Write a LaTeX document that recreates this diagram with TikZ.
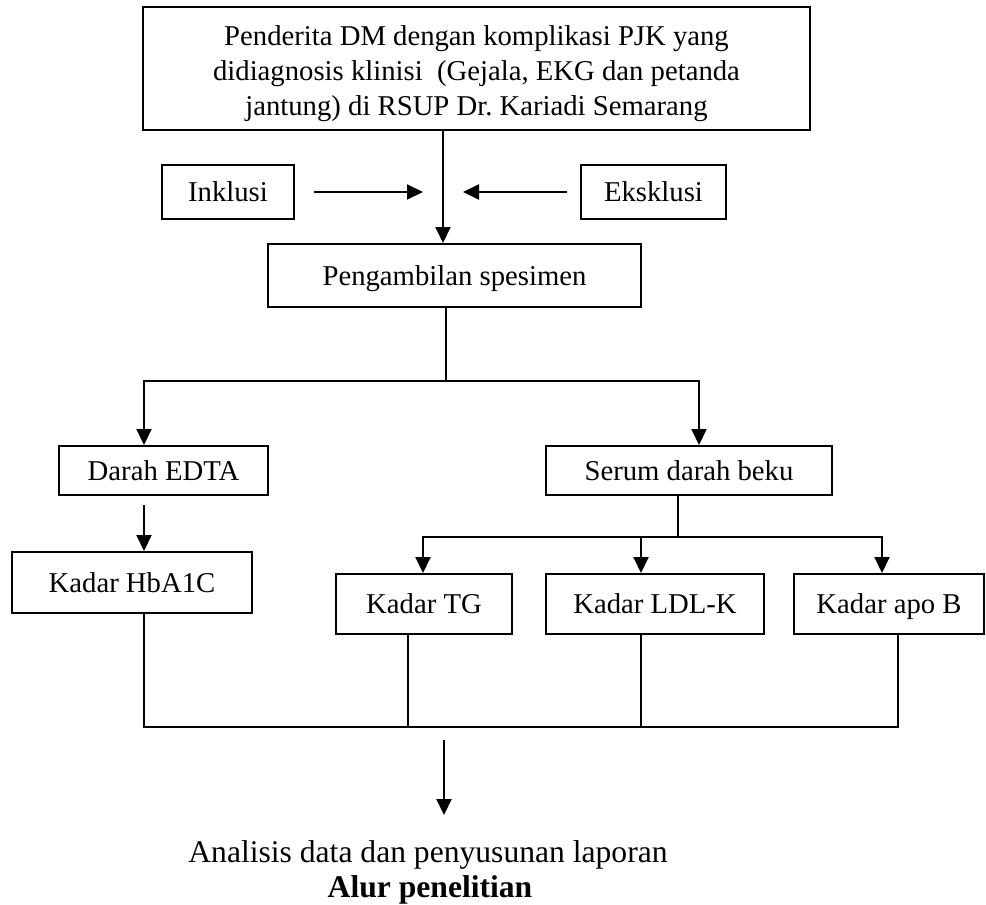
\documentclass[tikz,border=0pt]{standalone}
\usepackage{fontspec}
\setmainfont{Liberation Serif}
\usetikzlibrary{arrows.meta,calc}
\newcommand{\myfs}{\fontsize{28.7}{35}\selectfont}
\newcommand{\mybigfs}{\fontsize{31.6}{36}\selectfont}
\begin{document}
\begin{tikzpicture}[x=1pt,y=-1pt,
  box/.style={draw,line width=2pt,inner sep=0pt,text height=19pt,text depth=0pt,font=\myfs},
  arr/.style={line width=2pt,-{Triangle[length=16pt,width=15pt]}},
  ln/.style={line width=2pt},
  thinln/.style={line width=1.5pt},
  plaintext/.style={anchor=base,inner sep=0pt}]
\useasboundingbox (0,0) rectangle (986,905);
% boxes
\node[box,minimum width=667pt,minimum height=123pt,align=center,text height=93pt] (top) at (476.5,68.5)
  {Penderita DM dengan komplikasi PJK yang\\didiagnosis klinisi\ \ (Gejala, EKG dan petanda\\jantung) di RSUP Dr.\ Kariadi Semarang};
\node[box,minimum width=132pt,minimum height=54pt] (inkl) at (228,192) {Inklusi};
\node[box,minimum width=145pt,minimum height=54pt] (eksk) at (653.5,192) {Eksklusi};
\node[box,minimum width=373pt,minimum height=63pt] (peng) at (454.5,275.5) {Pengambilan spesimen};
\node[box,minimum width=209pt,minimum height=49pt] (darah) at (163.5,470.5) {Darah EDTA};
\node[box,minimum width=240pt,minimum height=61pt] (hba) at (132,582.5) {Kadar HbA1C};
\node[box,minimum width=286pt,minimum height=49pt] (serum) at (689,470.5) {Serum darah beku};
\node[box,minimum width=176pt,minimum height=60pt] (tg) at (424,604) {Kadar TG};
\node[box,minimum width=218pt,minimum height=60pt] (ldl) at (655,604) {Kadar LDL-K};
\node[box,minimum width=190pt,minimum height=60pt] (apob) at (889,604) {Kadar apo B};
\node[plaintext,font=\mybigfs] (ana) at (428,862) {Analisis data dan penyusunan laporan};
\node[plaintext,font=\mybigfs\bfseries] (alur) at (430,897) {Alur penelitian};
% helper coordinates
\coordinate (mx) at (443,0);
\coordinate (b1) at (446,381);
\coordinate (xL) at (144,0);
\coordinate (xR) at (699,0);
\coordinate (b2) at (678,537);
\coordinate (c1) at (423,0);
\coordinate (c2) at (641,0);
\coordinate (c3) at (882,0);
\coordinate (j) at (144,727);
\coordinate (d1) at (408,0);
\coordinate (d3) at (898,0);
\coordinate (out) at (444,740);
\coordinate (outend) at (444,815);
% connectors
\draw[arr] (top.south -| mx) -- (peng.north -| mx);
\draw[arr] ($(inkl.east)+(19,0)$) -- ($(inkl.east -| mx)+(-20,0)$);
\draw[arr] ($(eksk.west)+(-13,0)$) -- ($(eksk.west -| mx)+(20,0)$);
\draw[thinln] (peng.south -| b1) -- (b1);
\draw[arr] (b1) -| (darah.north -| xL);
\draw[arr] (b1) -| (serum.north -| xR);
\draw[arr] ($(darah.south -| xL)+(0,9)$) -- (hba.north -| xL);
\draw[thinln] (serum.south -| b2) -- (b2);
\draw[arr] (b2) -| (tg.north -| c1);
\draw[arr] (b2 -| c2) -- (ldl.north -| c2);
\draw[arr] (b2) -| (apob.north -| c3);
\draw[thinln] (hba.south -| xL) -- (j) -- (j -| d3) -- (apob.south -| d3);
\draw[thinln] (tg.south -| d1) -- (j -| d1);
\draw[thinln] (ldl.south -| c2) -- (j -| c2);
\draw[arr] (out) -- (outend);
\end{tikzpicture}
\end{document}
